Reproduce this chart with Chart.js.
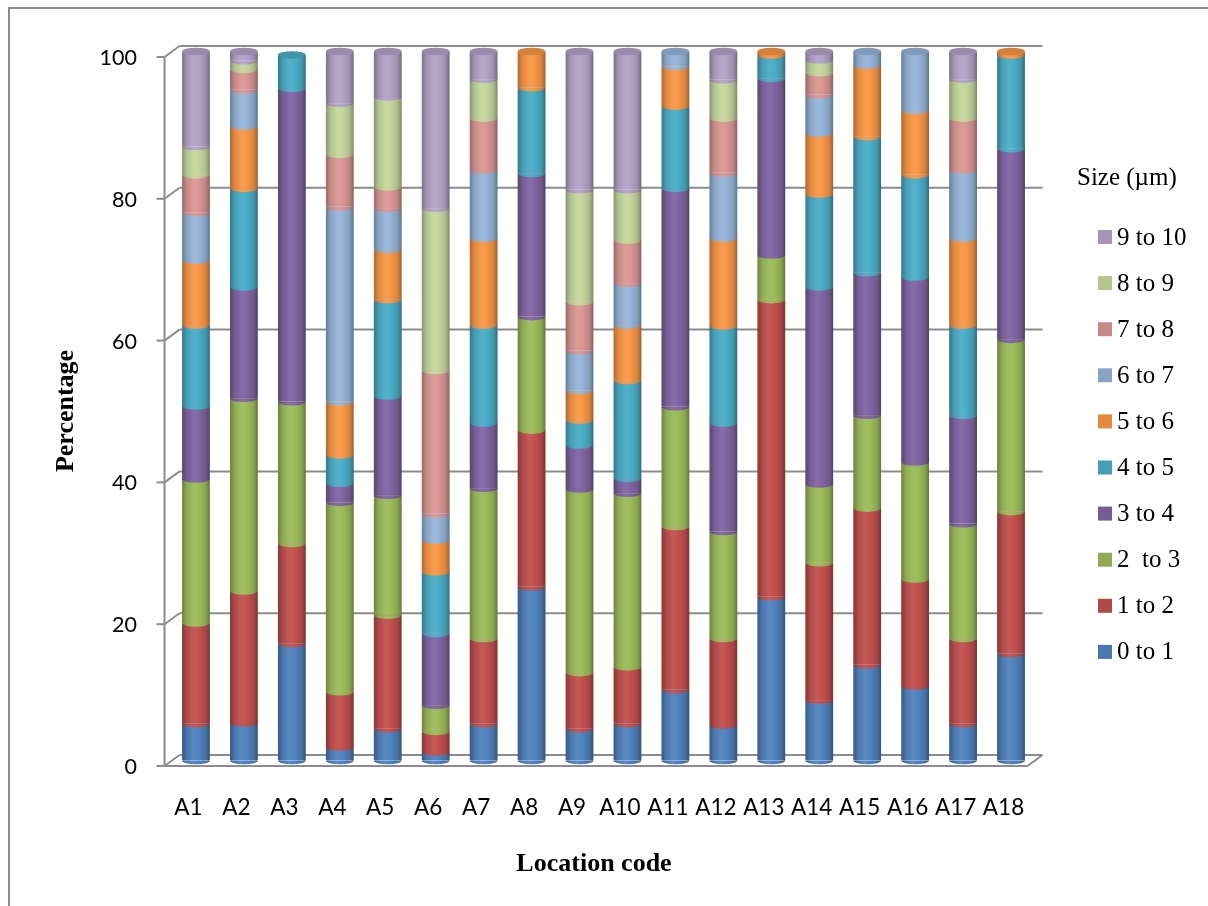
<!DOCTYPE html>
<html>
<head>
<meta charset="utf-8">
<title>Particle size distribution by location</title>
<script src="https://cdn.jsdelivr.net/npm/chart.js@4.4.1/dist/chart.umd.min.js"></script>
<style>
  html, body { margin: 0; padding: 0; background: #ffffff; }
  #wrap { position: relative; width: 1208px; height: 906px; overflow: hidden; }
  canvas { display: block; }
</style>
</head>
<body>
<div id="wrap"><canvas id="chart" width="1208" height="906"></canvas></div>
<script>
// Sampling locations along the category axis
const locations = ['A1', 'A2', 'A3', 'A4', 'A5', 'A6', 'A7', 'A8', 'A9', 'A10',
                   'A11', 'A12', 'A13', 'A14', 'A15', 'A16', 'A17', 'A18'];

// Size classes (µm), bottom of the stack first
const sizeClasses = ['0 to 1', '1 to 2', '2  to 3', '3 to 4', '4 to 5',
                     '5 to 6', '6 to 7', '7 to 8', '8 to 9', '9 to 10'];

// Percentage of particles in each size class, per location
const size0to1  = [5.2, 5.3, 16.5, 1.9, 4.5, 1.2, 5.2, 24.5, 4.5, 5.2, 10.0, 5.0, 23.1, 8.5, 13.5, 10.5, 5.2, 15.1];
const size1to2  = [14.2, 18.6, 14.1, 7.8, 16.0, 2.9, 12.0, 22.1, 7.9, 8.0, 23.0, 12.2, 41.9, 19.4, 22.1, 15.1, 12.0, 20.0];
const size2to3  = [20.3, 27.2, 20.0, 26.7, 16.9, 3.7, 21.2, 16.0, 25.9, 24.5, 16.9, 15.1, 6.3, 11.1, 13.1, 16.5, 16.2, 24.3];
const size3to4  = [10.3, 15.7, 44.2, 2.7, 14.0, 10.1, 9.2, 20.2, 6.2, 2.1, 30.8, 15.3, 24.9, 27.8, 20.1, 26.1, 15.3, 26.9];
const size4to5  = [11.4, 13.9, 4.7, 4.0, 13.6, 8.7, 13.8, 12.1, 3.5, 13.8, 11.6, 13.7, 3.3, 13.1, 19.2, 14.4, 12.7, 13.2];
const size5to6  = [9.2, 8.8, 0, 7.5, 7.1, 4.5, 12.3, 5.1, 4.2, 7.8, 5.6, 12.4, 0.5, 8.6, 10.1, 9.1, 12.3, 0.5];
const size6to7  = [6.7, 5.1, 0, 27.5, 5.8, 3.7, 9.6, 0, 5.6, 5.9, 2.1, 9.2, 0, 5.4, 1.9, 8.3, 9.6, 0];
const size7to8  = [5.3, 2.9, 0, 7.4, 3.0, 20.2, 7.3, 0, 6.9, 6.1, 0, 7.7, 0, 3.1, 0, 0, 7.3, 0];
const size8to9  = [4.0, 1.2, 0, 7.2, 12.7, 22.9, 5.5, 0, 15.8, 7.1, 0, 5.4, 0, 1.8, 0, 0, 5.5, 0];
const size9to10 = [13.4, 1.3, 0, 7.3, 6.4, 22.1, 3.9, 0, 19.5, 19.5, 0, 4.0, 0, 1.2, 0, 0, 3.9, 0];

// Value-axis ticks
const percentTicks = [0, 20, 40, 60, 80, 100];

const seriesValues = [size0to1, size1to2, size2to3, size3to4, size4to5,
                      size5to6, size6to7, size7to8, size8to9, size9to10];
const seriesColors = ['#4F81BD', '#C0504D', '#9BBB59', '#8064A2', '#4BACC6',
                      '#F79646', '#95B3D7', '#D99694', '#C3D69B', '#B3A2C7'];

// ---- colour helpers ----
function hexToRgb(hex) {
  const n = parseInt(hex.slice(1), 16);
  return [(n >> 16) & 255, (n >> 8) & 255, n & 255];
}
function shade(hex, amt) {
  // amt < 0 darkens toward black, amt > 0 lightens toward white
  const c = hexToRgb(hex).map(v => amt < 0 ? v * (1 + amt) : v + (255 - v) * amt);
  return 'rgb(' + c.map(v => Math.round(v)).join(',') + ')';
}
function cylinderFill(ctx, x0, x1, hex) {
  const g = ctx.createLinearGradient(x0, 0, x1, 0);
  g.addColorStop(0.0, shade(hex, -0.30));
  g.addColorStop(0.18, shade(hex, -0.08));
  g.addColorStop(0.42, shade(hex, 0.06));
  g.addColorStop(0.62, hex);
  g.addColorStop(0.85, shade(hex, -0.12));
  g.addColorStop(1.0, shade(hex, -0.36));
  return g;
}

const BAR_PCT = 0.58;
const DEPTH_X = 7.5;   // half depth of the 3-D floor, horizontal
const DEPTH_Y = 5.5;   // half depth of the 3-D floor, vertical
const CAP_RY = 3.8;    // vertical radius of the cylinder ellipses

const datasets = seriesValues.map((vals, k) => ({
  label: sizeClasses[k],
  data: vals,
  baseColor: seriesColors[k],
  borderWidth: 0,
  backgroundColor: (c) => {
    const chart = c.chart;
    if (!chart.chartArea || c.type !== 'data') return seriesColors[k];
    const xs = chart.scales.x;
    const cx = xs.getPixelForValue(c.dataIndex);
    const half = (xs.width / locations.length) * BAR_PCT / 2;
    return cylinderFill(chart.ctx, cx - half, cx + half, seriesColors[k]);
  }
}));

function line(ctx, x0, y0, x1, y1) {
  ctx.beginPath();
  ctx.moveTo(x0, y0);
  ctx.lineTo(x1, y1);
  ctx.stroke();
}

// Back wall, side wall and floor of the 3-D plot box
const frame3d = {
  id: 'frame3d',
  beforeDraw(chart) {
    const ctx = chart.ctx;
    ctx.save();
    ctx.fillStyle = '#ffffff';
    ctx.fillRect(0, 0, chart.width, chart.height);
    // outer chart border
    ctx.strokeStyle = '#8c8c8c';
    ctx.lineWidth = 2;
    ctx.strokeRect(9, 8, chart.width + 40, chart.height + 40);
    ctx.restore();
  },
  beforeDatasetsDraw(chart) {
    const ctx = chart.ctx;
    const ys = chart.scales.y;
    const { left, right } = chart.chartArea;
    ctx.save();
    ctx.strokeStyle = '#8c8c8c';
    ctx.lineWidth = 2;
    ctx.lineCap = 'butt';
    percentTicks.forEach(v => {
      const py = ys.getPixelForValue(v);
      line(ctx, left + DEPTH_X, py - DEPTH_Y, right + DEPTH_X, py - DEPTH_Y);
      line(ctx, left - DEPTH_X, py + DEPTH_Y, left + DEPTH_X, py - DEPTH_Y);
      line(ctx, left - DEPTH_X - 8, py + DEPTH_Y, left - DEPTH_X, py + DEPTH_Y);
    });
    const y0 = ys.getPixelForValue(0);
    const y100 = ys.getPixelForValue(100);
    line(ctx, left - DEPTH_X, y100 + DEPTH_Y, left - DEPTH_X, y0 + DEPTH_Y);
    line(ctx, left - DEPTH_X, y0 + DEPTH_Y, right - DEPTH_X, y0 + DEPTH_Y);
    line(ctx, right - DEPTH_X, y0 + DEPTH_Y, right + DEPTH_X, y0 - DEPTH_Y);
    ctx.restore();
  },
  afterDatasetsDraw(chart) {
    const ctx = chart.ctx;
    const sets = chart.data.datasets;
    ctx.save();
    for (let i = 0; i < locations.length; i++) {
      let topK = -1;
      for (let k = 0; k < sets.length; k++) {
        if (!(sets[k].data[i] > 0)) continue;
        const el = chart.getDatasetMeta(k).data[i];
        const { x, base, width } = el.getProps(['x', 'base', 'width'], true);
        const hw = width / 2;
        // rounded front edge at the bottom of each segment
        ctx.beginPath();
        ctx.ellipse(x, base, hw, CAP_RY, 0, 0, Math.PI);
        ctx.closePath();
        ctx.fillStyle = cylinderFill(ctx, x - hw, x + hw, sets[k].baseColor);
        ctx.fill();
        topK = k;
      }
      if (topK >= 0) {
        const el = chart.getDatasetMeta(topK).data[i];
        const { x, y, width } = el.getProps(['x', 'y', 'width'], true);
        const hw = width / 2;
        ctx.beginPath();
        ctx.ellipse(x, y, hw, CAP_RY, 0, 0, Math.PI * 2);
        ctx.fillStyle = shade(sets[topK].baseColor, -0.14);
        ctx.fill();
      }
    }
    ctx.restore();
  },
  afterDraw(chart) {
    const ctx = chart.ctx;
    const sets = chart.data.datasets;
    ctx.save();
    ctx.fillStyle = '#000000';
    // axis titles
    ctx.font = 'bold 26px "Liberation Serif", "Times New Roman", serif';
    ctx.textAlign = 'center';
    ctx.textBaseline = 'middle';
    ctx.fillText('Location code', 594, 864);
    ctx.save();
    ctx.translate(66, 411);
    ctx.rotate(-Math.PI / 2);
    ctx.fillText('Percentage', 0, 0);
    ctx.restore();
    // legend, largest size class first
    ctx.font = '25px "Liberation Serif", "Times New Roman", serif';
    ctx.textAlign = 'left';
    ctx.fillText('Size (\u00b5m)', 1077, 178);
    for (let j = 0; j < sets.length; j++) {
      const k = sets.length - 1 - j;
      const cy = 237 + j * 46.1;
      ctx.fillStyle = shade(sets[k].baseColor, -0.08);
      ctx.fillRect(1098, cy - 7, 14, 14);
      ctx.fillStyle = '#000000';
      ctx.fillText(sets[k].label, 1117, cy + 1);
    }
    ctx.restore();
  }
};

new Chart(document.getElementById('chart'), {
  type: 'bar',
  data: { labels: locations, datasets },
  options: {
    responsive: false,
    animation: false,
    devicePixelRatio: 1,
    layout: { padding: { left: 0, top: 51.5, right: 173, bottom: 0 } },
    datasets: { bar: { barPercentage: BAR_PCT, categoryPercentage: 1.0 } },
    plugins: { legend: { display: false }, tooltip: { enabled: false } },
    scales: {
      x: {
        stacked: true,
        grid: { display: false, drawTicks: false },
        border: { display: false },
        ticks: {
          color: '#000000',
          font: { family: 'Lato', size: 22.5 },
          padding: 34,
          labelOffset: -DEPTH_X,
          maxRotation: 0,
          autoSkip: false
        },
        afterFit: (s) => { s.height = 906 - 760.5; }
      },
      y: {
        stacked: true,
        min: 0,
        max: 100,
        grid: { display: false, drawTicks: false },
        border: { display: false },
        ticks: {
          color: '#000000',
          font: { family: 'Lato', size: 21.5 },
          padding: 35,
          stepSize: 20,
          labelOffset: DEPTH_Y + 1,
          callback: (v) => percentTicks.includes(v) ? String(v) : ''
        },
        afterFit: (s) => { s.width = 172; }
      }
    }
  },
  plugins: [frame3d]
});
</script>
</body>
</html>
